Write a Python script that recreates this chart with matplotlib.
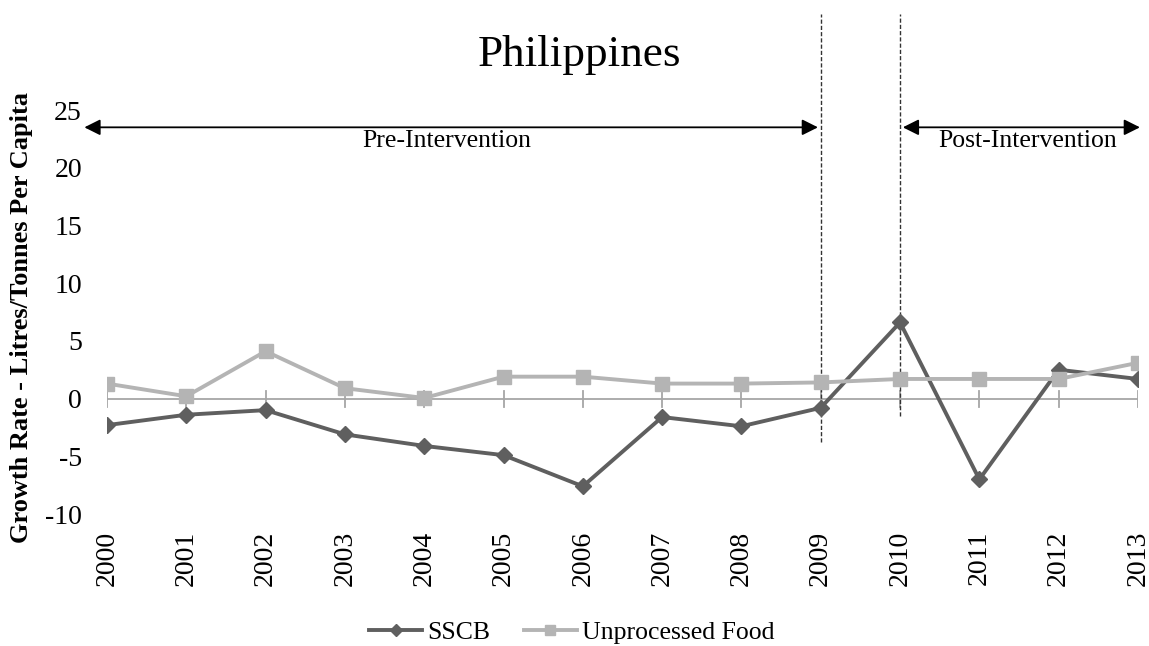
import matplotlib
matplotlib.use("Agg")
import matplotlib.pyplot as plt

# data
years = ["2000", "2001", "2002", "2003", "2004", "2005", "2006",
         "2007", "2008", "2009", "2010", "2011", "2012", "2013"]
sscb = [-2.3, -1.4, -1.0, -3.1, -4.1, -4.9, -7.6,
        -1.6, -2.4, -0.8, 6.6, -7.0, 2.5, 1.7]
unprocessed = [1.3, 0.2, 4.1, 0.9, 0.05, 1.9, 1.9,
               1.3, 1.3, 1.4, 1.7, 1.7, 1.7, 3.1]
yticks = [-10, -5, 0, 5, 10, 15, 20, 25]

plt.rcParams['font.family'] = ['Liberation Serif', 'DejaVu Serif']

fig = plt.figure(figsize=(11.49, 6.46), dpi=100)
ax = fig.add_axes([0.0931, 0.2043, 0.8973, 0.6254])

x = list(range(len(years)))
ax.plot(x, sscb, color='#5f5f5f', lw=2.8, marker='D', ms=8.5, label='SSCB', zorder=3)
ax.plot(x, unprocessed, color='#b4b4b4', lw=2.8, marker='s', ms=10,
        label='Unprocessed Food', zorder=3)

ax.set_xlim(0, len(years) - 1)
ax.set_ylim(-10, 25)
ax.set_yticks(yticks)
ax.set_yticklabels([str(t) for t in yticks], fontsize=20)
ax.set_xticks(x)
ax.set_xticklabels(years, rotation=90, fontsize=20)

for s in ax.spines.values():
    s.set_visible(False)
ax.tick_params(axis='y', length=0, pad=18)
ax.tick_params(axis='x', length=0, pad=12)

# category axis drawn at zero with crossing tick marks
ax.axhline(0, color='#a6a6a6', lw=1.3, zorder=1)
for xi in x:
    ax.plot([xi, xi], [-0.7, 0.7], color='#a6a6a6', lw=1.3, zorder=1)

fig.text(0.019, 0.508, 'Growth Rate - Litres/Tonnes Per Capita', fontsize=19,
         fontweight='bold', rotation=90, ha='center', va='center')

# intervention markers
ax.plot([9, 9], [-3.8, 33.3], color='#333333', lw=1, ls=(0, (3, 1.5)), clip_on=False, zorder=2)
ax.plot([10, 10], [-1.5, 33.3], color='#333333', lw=1, ls=(0, (3, 1.5)), clip_on=False, zorder=2)

arrow = dict(arrowstyle='<|-|>', color='black', lw=1.3, mutation_scale=24)
ax.annotate('', xy=(-0.32, 23.5), xytext=(9, 23.5), arrowprops=arrow,
            annotation_clip=False)
ax.annotate('', xy=(10, 23.5), xytext=(13.06, 23.5), arrowprops=arrow,
            annotation_clip=False)
ax.text(4.29, 22.3, 'Pre-Intervention', ha='center', va='center', fontsize=18.5)
ax.text(11.61, 22.3, 'Post-Intervention', ha='center', va='center', fontsize=18.5)

fig.text(0.504, 0.915, 'Philippines', ha='center', va='center', fontsize=32.5)

ax.legend(loc='center', bbox_to_anchor=(0.451, -0.294), ncol=2, frameon=False,
          fontsize=18.5, handlelength=2.06, columnspacing=1.3, handletextpad=0.2,
          markerscale=0.75, borderpad=0)

fig.savefig('out.png', dpi=100)
